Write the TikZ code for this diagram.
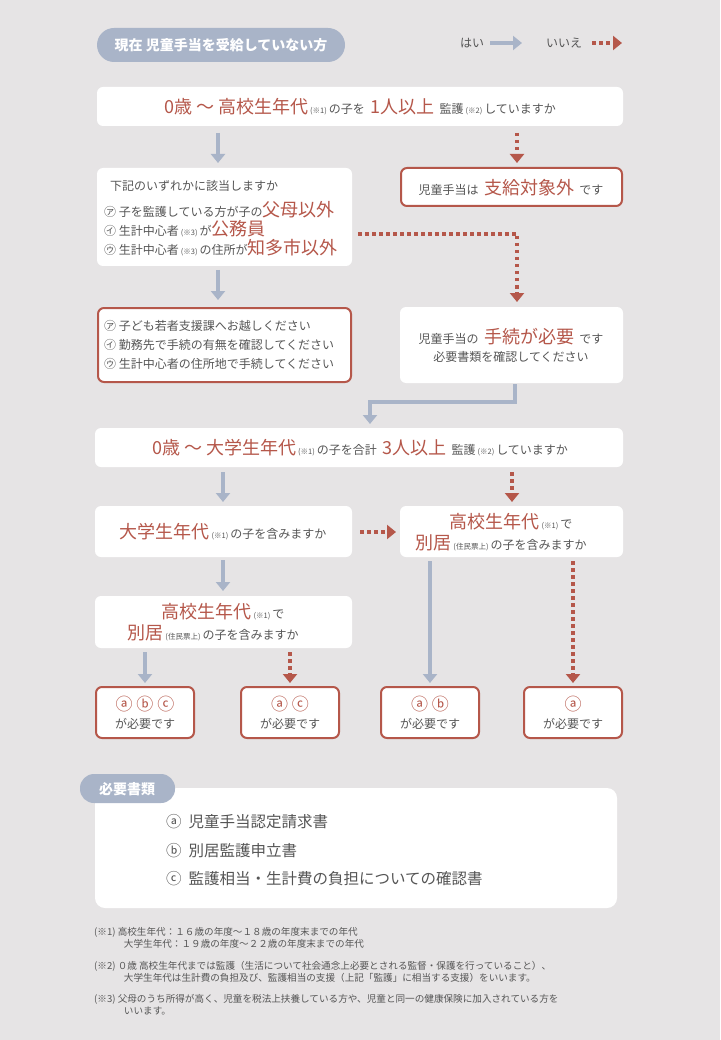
\documentclass[tikz,border=0pt]{standalone}
\usepackage{fontspec}
\setmainfont{Noto Sans CJK JP}
\usetikzlibrary{arrows.meta}
\definecolor{bg}{HTML}{E6E4E5}
\definecolor{bl}{HTML}{A9B4C8}
\definecolor{rd}{HTML}{B5574A}
\definecolor{tx}{HTML}{555555}
\newcommand{\R}[1]{{\color{rd}\fontsize{18}{20}\selectfont #1}}
\newcommand{\Sm}[1]{{\fontsize{7.5}{8}\selectfont #1}}
\tikzset{
 wbox/.style={fill=white,rounded corners=6pt,draw=none},
 rbox/.style={fill=white,rounded corners=6pt,draw=rd,line width=2pt},
 yes/.style={draw=bl,line width=3.5pt,-{Triangle[length=9pt,width=14pt]}},
 no/.style={draw=rd,line width=3.5pt,dash pattern=on 3.5pt off 3.5pt,-{Triangle[length=9pt,width=14pt]}},
 txt/.style={text=tx,font=\fontsize{12}{15}\selectfont,inner sep=0pt},
}
\begin{document}
\begin{tikzpicture}[x=1pt,y=-1pt]
\fill[bg] (0,0) rectangle (720,1040);
\useasboundingbox (0,0) rectangle (720,1040);
% header
\fill[bl,rounded corners=17pt] (97,28) rectangle (345,62);
\node[text=white,font=\fontsize{14}{16}\selectfont\bfseries] (hd) at (221,45) {現在\ 児童手当を受給していない方};
\node[txt] (ly) at (472,43) {はい};
\coordinate (ya) at (490,43); \coordinate (yb) at (522,43);
\draw[yes] (ya) -- (yb);
\node[txt] (ln) at (564,43) {いいえ};
\coordinate (na) at (592,43); \coordinate (nb) at (622,43);
\draw[no] (na) -- (nb);
% Q1
\path[wbox] (97,87) rectangle (623,126);
\node[txt] (q1) at (360,107) {\R{0歳\ ～\ 高校生年代}\,\Sm{(※1)}\,の子を\ \ \R{1人以上}\ \ 監護\,\Sm{(※2)}\,していますか};
\coordinate (q1a) at (218,133); \coordinate (q1b) at (218,163);
\coordinate (q1c) at (517,133); \coordinate (q1d) at (517,163);
\draw[yes] (q1a) -- (q1b);
\draw[no] (q1c) -- (q1d);
% box2
\path[wbox] (97,168) rectangle (352,266);
\node[txt,anchor=west] (b2a) at (110,186) {下記のいずれかに該当しますか};
\node[txt,anchor=west] (b2b) at (104,210) {㋐ 子を監護している方が子の\R{父母以外}};
\node[txt,anchor=west] (b2c) at (104,229) {㋑ 生計中心者\,\Sm{(※3)}\,が\R{公務員}};
\node[txt,anchor=west] (b2d) at (104,248) {㋒ 生計中心者\,\Sm{(※3)}\,の住所が\R{知多市以外}};
\path[rbox] (401,168) rectangle (622,206);
\node[txt] (o1) at (511,188) {児童手当は\ \ \R{支給対象外}\ \ です};
\coordinate (d1) at (358,234); \coordinate (d2) at (517,234); \coordinate (d3) at (517,302);
\draw[no] (d1) -- (d2) -- (d3);
\coordinate (b2e) at (218,270); \coordinate (b2f) at (218,300);
\draw[yes] (b2e) -- (b2f);
% box3, box4
\path[rbox] (98,308) rectangle (351,382);
\node[txt,anchor=west] (b3a) at (104,326) {㋐ 子ども若者支援課へお越しください};
\node[txt,anchor=west] (b3b) at (104,345) {㋑ 勤務先で手続の有無を確認してください};
\node[txt,anchor=west] (b3c) at (104,364) {㋒ 生計中心者の住所地で手続してください};
\path[wbox] (400,307) rectangle (623,383);
\node[txt] (b4a) at (511,337) {児童手当の\ \ \R{手続が必要}\ \ です};
\node[txt] (b4b) at (511,357) {必要書類を確認してください};
\coordinate (c1) at (515,384); \coordinate (c2) at (515,402); \coordinate (c3) at (370,402); \coordinate (c4) at (370,424);
\draw[yes] (c1) -- (c2) -- (c3) -- (c4);
% Q2
\path[wbox] (95,428) rectangle (623,467);
\node[txt] (q2) at (360,448) {\R{0歳\ ～\ 大学生年代}\,\Sm{(※1)}\,の子を合計\ \ \R{3人以上}\ \ 監護\,\Sm{(※2)}\,していますか};
\coordinate (e1) at (223,472); \coordinate (e2) at (223,502);
\coordinate (e3) at (512,472); \coordinate (e4) at (512,502);
\draw[yes] (e1) -- (e2); \draw[no] (e3) -- (e4);
% box5, box6
\path[wbox] (95,506) rectangle (352,557);
\node[txt] (b5) at (223,532) {\R{大学生年代}\,\Sm{(※1)}\,の子を含みますか};
\coordinate (f1) at (360,532); \coordinate (f2) at (396,532);
\draw[no] (f1) -- (f2);
\path[wbox] (400,506) rectangle (623,557);
\node[txt] (b6a) at (511,522) {\R{高校生年代}\,\Sm{(※1)}\,で};
\node[txt] (b6b) at (501,543) {\R{別居}\,\Sm{(住民票上)}\,の子を含みますか};
\coordinate (g1) at (223,560); \coordinate (g2) at (223,591);
\draw[yes] (g1) -- (g2);
% box7
\path[wbox] (95,596) rectangle (352,648);
\node[txt] (b7a) at (223,612) {\R{高校生年代}\,\Sm{(※1)}\,で};
\node[txt] (b7b) at (213,633) {\R{別居}\,\Sm{(住民票上)}\,の子を含みますか};
\coordinate (h1) at (145,652); \coordinate (h2) at (145,683);
\coordinate (h3) at (290,652); \coordinate (h4) at (290,683);
\coordinate (h5) at (430,561); \coordinate (h6) at (430,683);
\coordinate (h7) at (573,561); \coordinate (h8) at (573,683);
\draw[yes] (h1) -- (h2); \draw[no] (h3) -- (h4);
\draw[yes] (h5) -- (h6); \draw[no] (h7) -- (h8);
% results
\foreach \x/\t/\n in {145/ⓐ\ ⓑ\ ⓒ/r1, 290/ⓐ\ ⓒ/r2, 430/ⓐ\ ⓑ/r3, 573/ⓐ/r4}{
 \path[rbox] (\x-49,687) rectangle (\x+49,738);
 \node[txt] (\n a) at (\x,704) {\color{rd}\fontsize{17}{19}\selectfont \t};
 \node[txt] (\n b) at (\x,724) {が必要です};
}
% documents
\path[wbox,rounded corners=10pt] (95,788) rectangle (617,908);
\fill[bl,rounded corners=14pt] (80,774) rectangle (175,803);
\node[text=white,font=\fontsize{14}{16}\selectfont\bfseries] (nd) at (127,789) {必要書類};
\node[txt,anchor=west,font=\fontsize{15.5}{17}\selectfont] (i1) at (166,822) {ⓐ\ \ 児童手当認定請求書};
\node[txt,anchor=west,font=\fontsize{15.5}{17}\selectfont] (i2) at (166,851) {ⓑ\ \ 別居監護申立書};
\node[txt,anchor=west,font=\fontsize{15.5}{17}\selectfont] (i3) at (166,879) {ⓒ\ \ 監護相当・生計費の負担についての確認書};
% notes
\begin{scope}[every node/.style={txt,anchor=north west,font=\fontsize{9.6}{12.5}\selectfont,align=left}]
\node (n1) at (94,927) {(※1) 高校生年代：１６歳の年度～１８歳の年度末までの年代\\\hspace{3.1em}大学生年代：１９歳の年度～２２歳の年度末までの年代};
\node (n2) at (94,961) {(※2) ０歳~高校生年代までは監護（生活について社会通念上必要とされる監督・保護を行っていること）、\\\hspace{3.1em}大学生年代は生計費の負担及び、監護相当の支援（上記「監護」に相当する支援）をいいます。};
\node (n3) at (94,994) {(※3) 父母のうち所得が高く、児童を税法上扶養している方や、児童と同一の健康保険に加入されている方を\\\hspace{3.1em}いいます。};
\end{scope}
\end{tikzpicture}
\end{document}
